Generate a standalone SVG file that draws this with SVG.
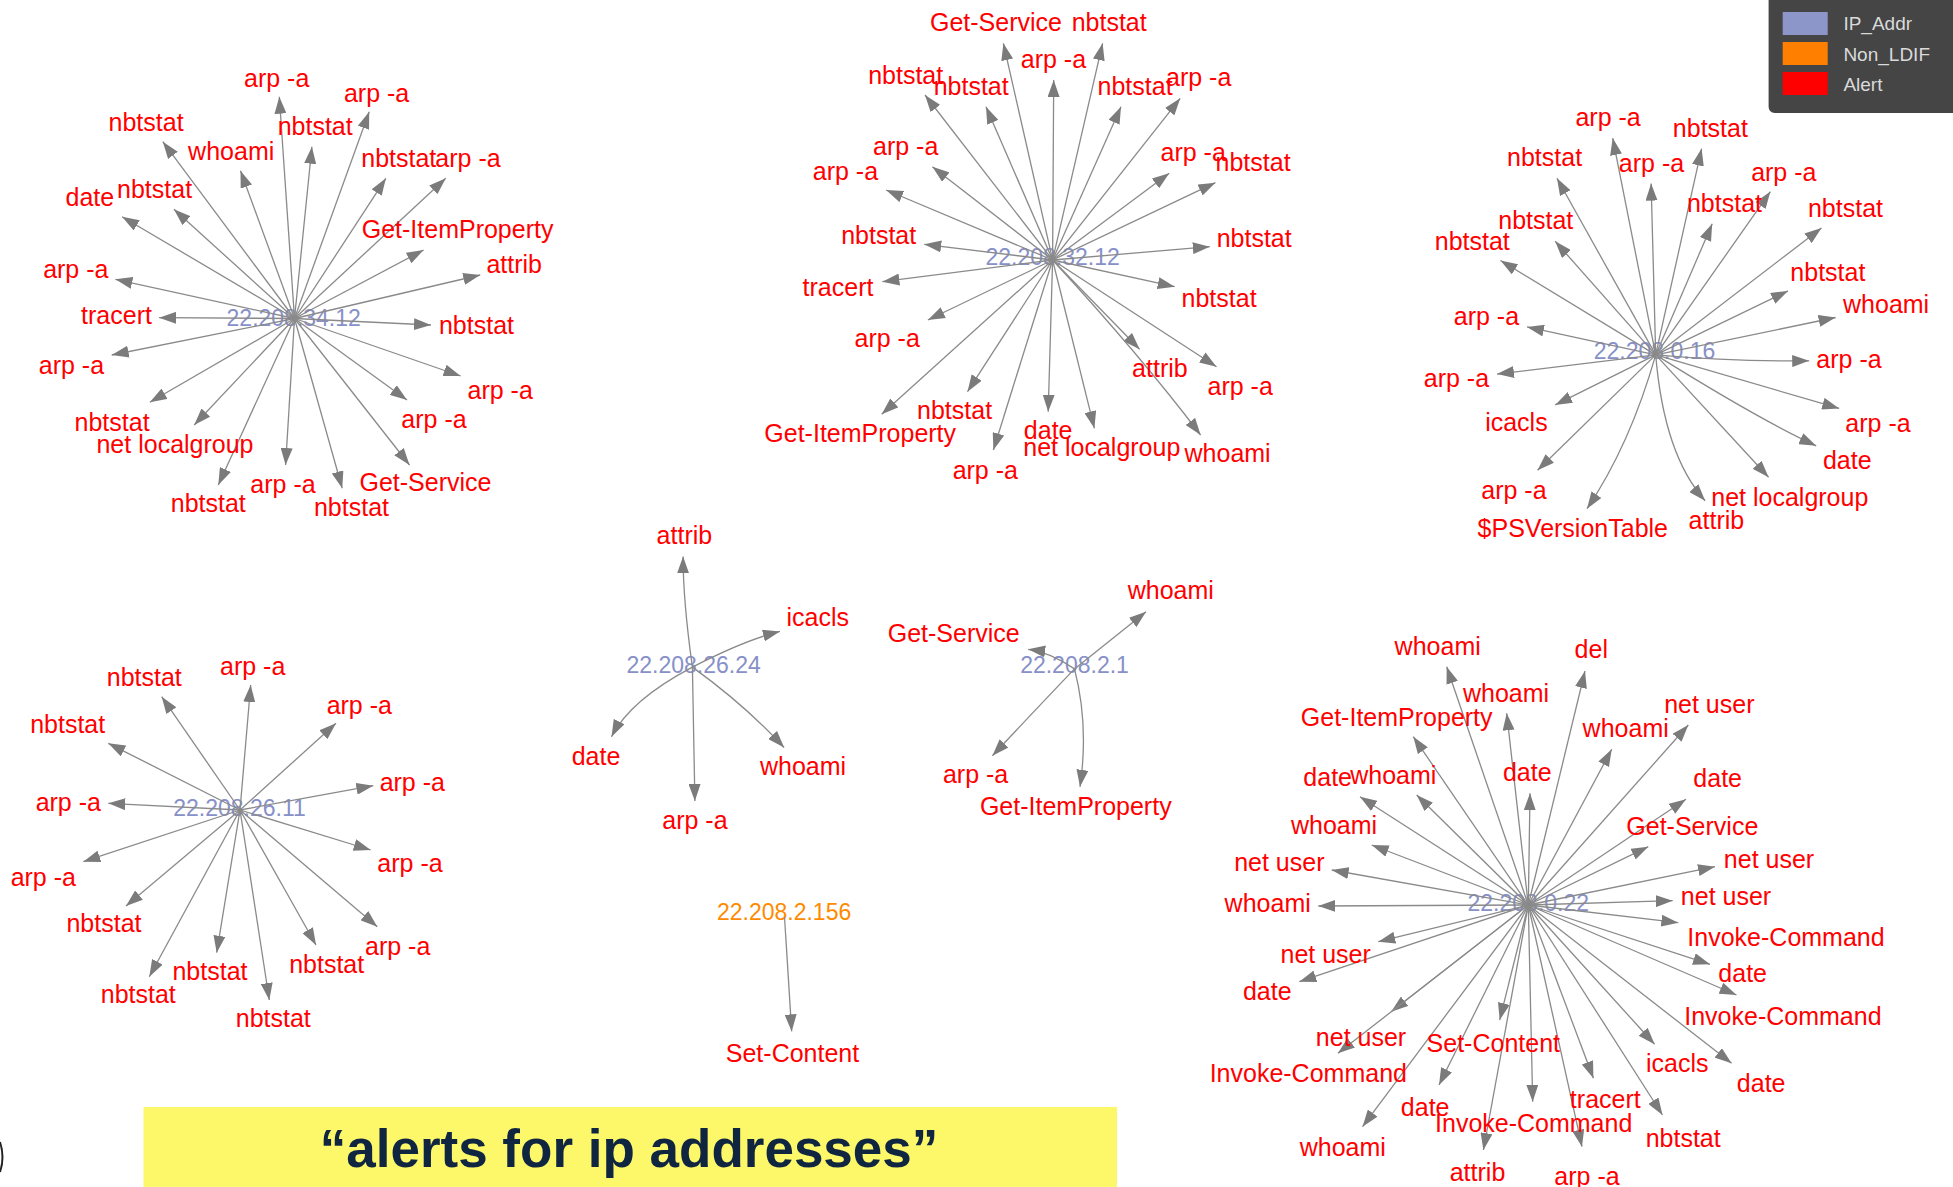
<svg xmlns="http://www.w3.org/2000/svg" width="1953" height="1187" viewBox="0 0 1953 1187">
<style>
  .ip text{font:23px "Liberation Sans",Arial,sans-serif;fill:#8790c8;text-anchor:middle;dominant-baseline:central}
  .ip.nonldif text{fill:#ff8a00}
  .leaf text{font:25px "Liberation Sans",Arial,sans-serif;fill:#ff0000;text-anchor:middle;dominant-baseline:central}
  #edges path{fill:none;stroke:#8a8a8a;stroke-width:1.3;marker-end:url(#arrow)}
  .legend text{font:19px "Liberation Sans",Arial,sans-serif;fill:#dadada;dominant-baseline:central}
  .banner text{font:bold 53px "Liberation Sans",Arial,sans-serif;fill:#0f2540;text-anchor:middle;dominant-baseline:central}
</style>
<defs>
  <marker id="arrow" viewBox="0 0 17 12" refX="17" refY="6" markerWidth="17" markerHeight="12" markerUnits="userSpaceOnUse" orient="auto">
    <path d="M0,0L17,6L0,12z" fill="#7b7b7b"/>
  </marker>
</defs>
<rect width="1953" height="1187" fill="#ffffff"/>

<!-- IP address hubs -->
<g id="ip-22-208-34-12" class="ip"><text x="293.7" y="318.3">22.208.34.12</text></g>
<g id="ip-22-208-32-12" class="ip"><text x="1052.6" y="256.7">22.208.32.12</text></g>
<g id="ip-22-208-0-16" class="ip"><text x="1654.5" y="351.4">22.208.0.16</text></g>
<g id="ip-22-208-26-11" class="ip"><text x="239.5" y="808.3">22.208.26.11</text></g>
<g id="ip-22-208-26-24" class="ip"><text x="693.6" y="665.4">22.208.26.24</text></g>
<g id="ip-22-208-2-1" class="ip"><text x="1074.5" y="665.4">22.208.2.1</text></g>
<g id="ip-22-208-2-156" class="ip nonldif"><text x="784.1" y="911.8">22.208.2.156</text></g>
<g id="ip-22-208-0-22" class="ip"><text x="1528.3" y="903.3">22.208.0.22</text></g>

<!-- connectors -->
<g id="edges">
  <!-- 22.208.34.12 -->
  <path d="M294.5,318.5L279.3,96.7"/>
  <path d="M294.5,318.5L369.2,111.7"/>
  <path d="M294.5,318.5L311.9,146.7"/>
  <path d="M294.5,318.5L162.8,141.7"/>
  <path d="M294.5,318.5L240.5,170.7"/>
  <path d="M294.5,318.5L385.9,178.3"/>
  <path d="M294.5,318.5L445.8,178.3"/>
  <path d="M294.5,318.5L122.1,216.7"/>
  <path d="M294.5,318.5L173.9,209.3"/>
  <path d="M294.5,318.5L423.6,250"/>
  <path d="M294.5,318.5L480.2,275"/>
  <path d="M294.5,318.5L115.4,279.3"/>
  <path d="M294.5,318.5L159.1,317.7"/>
  <path d="M294.5,318.5L431,325"/>
  <path d="M294.5,318.5L111.7,355"/>
  <path d="M294.5,318.5L460.6,376"/>
  <path d="M294.5,318.5L407,400"/>
  <path d="M294.5,318.5L149.8,402.3"/>
  <path d="M294.5,318.5L194.2,425"/>
  <path d="M294.5,318.5L409.5,465"/>
  <path d="M294.5,318.5L285.6,465"/>
  <path d="M294.5,318.5L218.3,485"/>
  <path d="M294.5,318.5L342.2,488.3"/>
  <!-- 22.208.32.12 -->
  <path d="M1052.6,260L1003.4,43.3"/>
  <path d="M1052.6,260L1102.6,43.3"/>
  <path d="M1052.6,260L1053.7,80"/>
  <path d="M1052.6,260L925,95"/>
  <path d="M1052.6,260L986,106.7"/>
  <path d="M1052.6,260L1121,106.7"/>
  <path d="M1052.6,260L1180.2,98.3"/>
  <path d="M1052.6,260L932.4,166.7"/>
  <path d="M1052.6,260L886.1,190"/>
  <path d="M1052.6,260L1169.2,173.3"/>
  <path d="M1052.6,260L1215.4,182.7"/>
  <path d="M1052.6,260L924.2,244.3"/>
  <path d="M1052.6,260L1209.8,246.7"/>
  <path d="M1052.6,260L882.4,281.7"/>
  <path d="M1052.6,260L1174.7,286.7"/>
  <path d="M1052.6,260L927.9,320"/>
  <path d="M1052.6,260L1139.6,349.3"/>
  <path d="M1052.6,260L1216.5,366.7"/>
  <path d="M1052.6,260L881.7,414.3"/>
  <path d="M1052.6,260L967.5,391.7"/>
  <path d="M1052.6,260L1048.2,411.7"/>
  <path d="M1052.6,260L1094.4,428.3"/>
  <path d="M1052.6,260Q1140,355 1200.6,435"/>
  <path d="M1052.6,260L993.4,450"/>
  <!-- 22.208.0.16 -->
  <path d="M1655.7,354.9L1612.7,138.1"/>
  <path d="M1655.7,354.9L1701.6,148.6"/>
  <path d="M1655.7,354.9L1557,178.3"/>
  <path d="M1655.7,354.9L1651.1,183.6"/>
  <path d="M1655.7,354.9L1770.4,191.6"/>
  <path d="M1655.7,354.9L1712.2,223.8"/>
  <path d="M1655.7,354.9L1821.5,228"/>
  <path d="M1655.7,354.9L1555.2,241.3"/>
  <path d="M1655.7,354.9L1500.5,260.5"/>
  <path d="M1655.7,354.9L1788,290.9"/>
  <path d="M1655.7,354.9L1835.6,317.5"/>
  <path d="M1655.7,354.9L1527,326.9"/>
  <path d="M1655.7,354.9Q1735,362 1809.2,360.8"/>
  <path d="M1655.7,354.9L1497,374.1"/>
  <path d="M1655.7,354.9L1839.2,408.4"/>
  <path d="M1655.7,354.9L1555.2,404.9"/>
  <path d="M1655.7,354.9Q1760,420 1816.2,445.8"/>
  <path d="M1655.7,354.9L1537.6,470.3"/>
  <path d="M1655.7,354.9L1768.6,477.3"/>
  <path d="M1655.7,354.9Q1630,445 1587,508.7"/>
  <path d="M1655.7,354.9Q1664,455 1705.1,500.7"/>
  <!-- 22.208.26.11 -->
  <path d="M240,810L250.7,685"/>
  <path d="M240,810L161.7,696.7"/>
  <path d="M240,810L336,723.3"/>
  <path d="M240,810L108.3,743.3"/>
  <path d="M240,810L373.3,785.7"/>
  <path d="M240,810L108.3,803.3"/>
  <path d="M240,810L370.7,850"/>
  <path d="M240,810L83.3,861.7"/>
  <path d="M240,810L126,906"/>
  <path d="M240,810L377.3,926.7"/>
  <path d="M240,810L316,945"/>
  <path d="M240,810L216.7,952.7"/>
  <path d="M240,810L149.3,976.7"/>
  <path d="M240,810L269.3,1000"/>
  <!-- 22.208.26.24 -->
  <path d="M692.4,667.1Q683,600 683.1,556.4"/>
  <path d="M692.4,667.1Q745,640 779.9,631.4"/>
  <path d="M692.4,667.1Q630,700 611.5,736.8"/>
  <path d="M692.4,667.1Q745,705 784.1,747.5"/>
  <path d="M692.4,667.1L694.9,801"/>
  <!-- 22.208.2.1 -->
  <path d="M1074.5,668.9Q1050,652 1028.2,649.3"/>
  <path d="M1074.5,668.9L1146,611.8"/>
  <path d="M1074.5,668.9Q1040,705 992.4,755.7"/>
  <path d="M1074.5,668.9Q1089,725 1080,786.8"/>
  <!-- 22.208.2.156 -->
  <path d="M784.5,917L791.7,1031.4"/>
  <!-- 22.208.0.22 -->
  <path d="M1528.3,905L1446.7,666.7"/>
  <path d="M1528.3,905L1585,671"/>
  <path d="M1528.3,905L1506.7,713.3"/>
  <path d="M1528.3,905L1413.3,736.7"/>
  <path d="M1528.3,905L1611.7,749.3"/>
  <path d="M1528.3,905L1688.3,725"/>
  <path d="M1528.3,905L1530,793.3"/>
  <path d="M1528.3,905L1360,796.7"/>
  <path d="M1528.3,905L1416.7,795"/>
  <path d="M1528.3,905L1686,799.3"/>
  <path d="M1528.3,905L1371.7,845"/>
  <path d="M1528.3,905L1648.3,846.7"/>
  <path d="M1528.3,905L1331.7,870"/>
  <path d="M1528.3,905L1715,866.7"/>
  <path d="M1528.3,905L1318.3,906"/>
  <path d="M1528.3,905L1672.7,900.7"/>
  <path d="M1528.3,905L1678.3,922.7"/>
  <path d="M1528.3,905L1378.3,941.7"/>
  <path d="M1528.3,905L1299.3,981.7"/>
  <path d="M1528.3,905L1710,964.3"/>
  <path d="M1528.3,905L1736.5,995"/>
  <path d="M1528.3,905L1391.2,1011.7"/>
  <path d="M1528.3,905L1499.7,1020"/>
  <path d="M1528.3,905L1337.9,1053.3"/>
  <path d="M1528.3,905L1654.6,1044.3"/>
  <path d="M1528.3,905L1731.6,1063.3"/>
  <path d="M1528.3,905L1439,1085"/>
  <path d="M1528.3,905L1593.4,1078.3"/>
  <path d="M1528.3,905L1532.7,1101.7"/>
  <path d="M1528.3,905L1662.5,1115"/>
  <path d="M1528.3,905L1362.5,1126.7"/>
  <path d="M1528.3,905L1483.4,1150"/>
  <path d="M1528.3,905L1582,1146.7"/>
</g>

<!-- alert nodes: 22.208.34.12 -->
<g id="a01" class="leaf"><text x="276.7" y="78.3">arp -a</text></g>
<g id="a02" class="leaf"><text x="376.6" y="92.7">arp -a</text></g>
<g id="a03" class="leaf"><text x="315.2" y="126">nbtstat</text></g>
<g id="a04" class="leaf"><text x="146.1" y="121.7">nbtstat</text></g>
<g id="a05" class="leaf"><text x="231.2" y="150.7">whoami</text></g>
<g id="a06" class="leaf"><text x="398.8" y="158.3">nbtstat</text></g>
<g id="a07" class="leaf"><text x="468" y="158.3">arp -a</text></g>
<g id="a08" class="leaf"><text x="89.9" y="196.7">date</text></g>
<g id="a09" class="leaf"><text x="154.6" y="189.3">nbtstat</text></g>
<g id="a10" class="leaf"><text x="457.6" y="229">Get-ItemProperty</text></g>
<g id="a11" class="leaf"><text x="514.2" y="264.3">attrib</text></g>
<g id="a12" class="leaf"><text x="75.8" y="269">arp -a</text></g>
<g id="a13" class="leaf"><text x="116.5" y="315">tracert</text></g>
<g id="a14" class="leaf"><text x="476.5" y="325">nbtstat</text></g>
<g id="a15" class="leaf"><text x="71.4" y="365">arp -a</text></g>
<g id="a16" class="leaf"><text x="500.2" y="390">arp -a</text></g>
<g id="a17" class="leaf"><text x="434" y="419.3">arp -a</text></g>
<g id="a18" class="leaf"><text x="112.1" y="421.7">nbtstat</text></g>
<g id="a19" class="leaf"><text x="175" y="444">net localgroup</text></g>
<g id="a20" class="leaf"><text x="425.5" y="482.3">Get-Service</text></g>
<g id="a21" class="leaf"><text x="283" y="484.3">arp -a</text></g>
<g id="a22" class="leaf"><text x="208.3" y="503.3">nbtstat</text></g>
<g id="a23" class="leaf"><text x="351.5" y="506.7">nbtstat</text></g>

<!-- alert nodes: 22.208.32.12 -->
<g id="b01" class="leaf"><text x="996" y="21.7">Get-Service</text></g>
<g id="b02" class="leaf"><text x="1109.2" y="21.7">nbtstat</text></g>
<g id="b03" class="leaf"><text x="1053.4" y="59.3">arp -a</text></g>
<g id="b04" class="leaf"><text x="905.7" y="75">nbtstat</text></g>
<g id="b05" class="leaf"><text x="971.2" y="86">nbtstat</text></g>
<g id="b06" class="leaf"><text x="1135.1" y="86">nbtstat</text></g>
<g id="b07" class="leaf"><text x="1198.7" y="76.7">arp -a</text></g>
<g id="b08" class="leaf"><text x="905.7" y="146">arp -a</text></g>
<g id="b09" class="leaf"><text x="845.4" y="170.7">arp -a</text></g>
<g id="b10" class="leaf"><text x="1193.2" y="151.7">arp -a</text></g>
<g id="b11" class="leaf"><text x="1253.1" y="161.7">nbtstat</text></g>
<g id="b12" class="leaf"><text x="878.7" y="235">nbtstat</text></g>
<g id="b13" class="leaf"><text x="1254.2" y="238.3">nbtstat</text></g>
<g id="b14" class="leaf"><text x="838" y="286.7">tracert</text></g>
<g id="b15" class="leaf"><text x="1219.1" y="297.7">nbtstat</text></g>
<g id="b16" class="leaf"><text x="887.2" y="338.3">arp -a</text></g>
<g id="b17" class="leaf"><text x="1159.9" y="367.7">attrib</text></g>
<g id="b18" class="leaf"><text x="1240.2" y="385.7">arp -a</text></g>
<g id="b19" class="leaf"><text x="860.2" y="433.3">Get-ItemProperty</text></g>
<g id="b20" class="leaf"><text x="954.6" y="410">nbtstat</text></g>
<g id="b21" class="leaf"><text x="1048.2" y="430">date</text></g>
<g id="b22" class="leaf"><text x="1101.8" y="447.3">net localgroup</text></g>
<g id="b23" class="leaf"><text x="1227.6" y="453.3">whoami</text></g>
<g id="b24" class="leaf"><text x="985.3" y="470">arp -a</text></g>

<!-- alert nodes: 22.208.0.16 -->
<g id="c01" class="leaf"><text x="1608.1" y="117.1">arp -a</text></g>
<g id="c02" class="leaf"><text x="1710.4" y="127.6">nbtstat</text></g>
<g id="c03" class="leaf"><text x="1544.6" y="157.3">nbtstat</text></g>
<g id="c04" class="leaf"><text x="1651.5" y="162.6">arp -a</text></g>
<g id="c05" class="leaf"><text x="1783.8" y="172.4">arp -a</text></g>
<g id="c06" class="leaf"><text x="1724.5" y="202.8">nbtstat</text></g>
<g id="c07" class="leaf"><text x="1845.5" y="208">nbtstat</text></g>
<g id="c08" class="leaf"><text x="1535.8" y="220.3">nbtstat</text></g>
<g id="c09" class="leaf"><text x="1472.3" y="241.3">nbtstat</text></g>
<g id="c10" class="leaf"><text x="1827.9" y="272">nbtstat</text></g>
<g id="c11" class="leaf"><text x="1886.1" y="303.5">whoami</text></g>
<g id="c12" class="leaf"><text x="1486.4" y="315.7">arp -a</text></g>
<g id="c13" class="leaf"><text x="1849" y="359.4">arp -a</text></g>
<g id="c14" class="leaf"><text x="1456.4" y="377.6">arp -a</text></g>
<g id="c15" class="leaf"><text x="1878" y="423.1">arp -a</text></g>
<g id="c16" class="leaf"><text x="1516.4" y="422.4">icacls</text></g>
<g id="c17" class="leaf"><text x="1847.3" y="459.8">date</text></g>
<g id="c18" class="leaf"><text x="1513.9" y="490.2">arp -a</text></g>
<g id="c19" class="leaf"><text x="1789.8" y="496.5">net localgroup</text></g>
<g id="c20" class="leaf"><text x="1572.8" y="528">$PSVersionTable</text></g>
<g id="c21" class="leaf"><text x="1716.4" y="519.9">attrib</text></g>

<!-- alert nodes: 22.208.26.11 -->
<g id="d01" class="leaf"><text x="252.7" y="666">arp -a</text></g>
<g id="d02" class="leaf"><text x="144.3" y="676.7">nbtstat</text></g>
<g id="d03" class="leaf"><text x="359.3" y="705">arp -a</text></g>
<g id="d04" class="leaf"><text x="67.7" y="724.3">nbtstat</text></g>
<g id="d05" class="leaf"><text x="412.3" y="781.7">arp -a</text></g>
<g id="d06" class="leaf"><text x="68.3" y="801.7">arp -a</text></g>
<g id="d07" class="leaf"><text x="410" y="863.3">arp -a</text></g>
<g id="d08" class="leaf"><text x="43.3" y="876.7">arp -a</text></g>
<g id="d09" class="leaf"><text x="104" y="923.3">nbtstat</text></g>
<g id="d10" class="leaf"><text x="397.7" y="946">arp -a</text></g>
<g id="d11" class="leaf"><text x="326.7" y="964.3">nbtstat</text></g>
<g id="d12" class="leaf"><text x="210" y="970.7">nbtstat</text></g>
<g id="d13" class="leaf"><text x="138.3" y="994.3">nbtstat</text></g>
<g id="d14" class="leaf"><text x="273.3" y="1018.3">nbtstat</text></g>

<!-- alert nodes: 22.208.26.24 -->
<g id="e01" class="leaf"><text x="684.4" y="535">attrib</text></g>
<g id="e02" class="leaf"><text x="817.8" y="617.1">icacls</text></g>
<g id="e03" class="leaf"><text x="596" y="756.4">date</text></g>
<g id="e04" class="leaf"><text x="803" y="766.4">whoami</text></g>
<g id="e05" class="leaf"><text x="694.9" y="820">arp -a</text></g>

<!-- alert nodes: 22.208.2.1 -->
<g id="f01" class="leaf"><text x="953.7" y="632.5">Get-Service</text></g>
<g id="f02" class="leaf"><text x="1170.8" y="590.4">whoami</text></g>
<g id="f03" class="leaf"><text x="975.6" y="774.3">arp -a</text></g>
<g id="f04" class="leaf"><text x="1075.8" y="806.4">Get-ItemProperty</text></g>

<!-- alert node: 22.208.2.156 -->
<g id="g01" class="leaf"><text x="792.5" y="1052.9">Set-Content</text></g>

<!-- alert nodes: 22.208.0.22 -->
<g id="h01" class="leaf"><text x="1437.7" y="646">whoami</text></g>
<g id="h02" class="leaf"><text x="1591.3" y="649.3">del</text></g>
<g id="h03" class="leaf"><text x="1506" y="692.7">whoami</text></g>
<g id="h04" class="leaf"><text x="1396.7" y="716.7">Get-ItemProperty</text></g>
<g id="h05" class="leaf"><text x="1625.7" y="728.3">whoami</text></g>
<g id="h06" class="leaf"><text x="1709.3" y="704.3">net user</text></g>
<g id="h07" class="leaf"><text x="1527.3" y="772.3">date</text></g>
<g id="h08" class="leaf"><text x="1327.7" y="776.7">date</text></g>
<g id="h09" class="leaf"><text x="1393.3" y="775">whoami</text></g>
<g id="h10" class="leaf"><text x="1717.7" y="777.7">date</text></g>
<g id="h11" class="leaf"><text x="1334" y="825">whoami</text></g>
<g id="h12" class="leaf"><text x="1692.3" y="826">Get-Service</text></g>
<g id="h13" class="leaf"><text x="1279.3" y="862.3">net user</text></g>
<g id="h14" class="leaf"><text x="1769" y="859">net user</text></g>
<g id="h15" class="leaf"><text x="1267.7" y="903.3">whoami</text></g>
<g id="h16" class="leaf"><text x="1726" y="895.7">net user</text></g>
<g id="h17" class="leaf"><text x="1786" y="937.3">Invoke-Command</text></g>
<g id="h18" class="leaf"><text x="1325.7" y="954.3">net user</text></g>
<g id="h19" class="leaf"><text x="1267.3" y="991">date</text></g>
<g id="h20" class="leaf"><text x="1742.7" y="973.3">date</text></g>
<g id="h21" class="leaf"><text x="1782.9" y="1015.7">Invoke-Command</text></g>
<g id="h22" class="leaf"><text x="1361" y="1036.7">net user</text></g>
<g id="h23" class="leaf"><text x="1493.3" y="1042.7">Set-Content</text></g>
<g id="h24" class="leaf"><text x="1308.3" y="1073.3">Invoke-Command</text></g>
<g id="h25" class="leaf"><text x="1677.3" y="1063.3">icacls</text></g>
<g id="h26" class="leaf"><text x="1761.2" y="1083.3">date</text></g>
<g id="h27" class="leaf"><text x="1425.2" y="1106.7">date</text></g>
<g id="h28" class="leaf"><text x="1605.3" y="1099.3">tracert</text></g>
<g id="h29" class="leaf"><text x="1533.7" y="1122.7">Invoke-Command</text></g>
<g id="h30" class="leaf"><text x="1683.2" y="1138.3">nbtstat</text></g>
<g id="h31" class="leaf"><text x="1342.8" y="1147.3">whoami</text></g>
<g id="h32" class="leaf"><text x="1477.5" y="1171.7">attrib</text></g>
<g id="h33" class="leaf"><text x="1587" y="1176">arp -a</text></g>

<!-- legend -->
<g id="legend" class="legend">
  <path d="M1768.6,0H1953V113H1775Q1768.6,113 1768.6,106.6Z" fill="#454545"/>
  <rect x="1782.7" y="12" width="45" height="23" fill="#8c96c8"/>
  <rect x="1782.7" y="42" width="45" height="23" fill="#ff8000"/>
  <rect x="1782.7" y="72" width="45" height="23" fill="#ff0000"/>
  <text x="1843.4" y="23.8">IP_Addr</text>
  <text x="1843.4" y="54.2">Non_LDIF</text>
  <text x="1843.4" y="84">Alert</text>
</g>

<!-- caption banner -->
<g id="banner" class="banner">
  <rect x="143.5" y="1107" width="973.5" height="80" fill="#fdf86a"/>
  <text x="629" y="1148">“alerts for ip addresses”</text>
</g>
<path d="M0,1142Q5,1157 0,1172" fill="none" stroke="#222" stroke-width="2"/>
</svg>
